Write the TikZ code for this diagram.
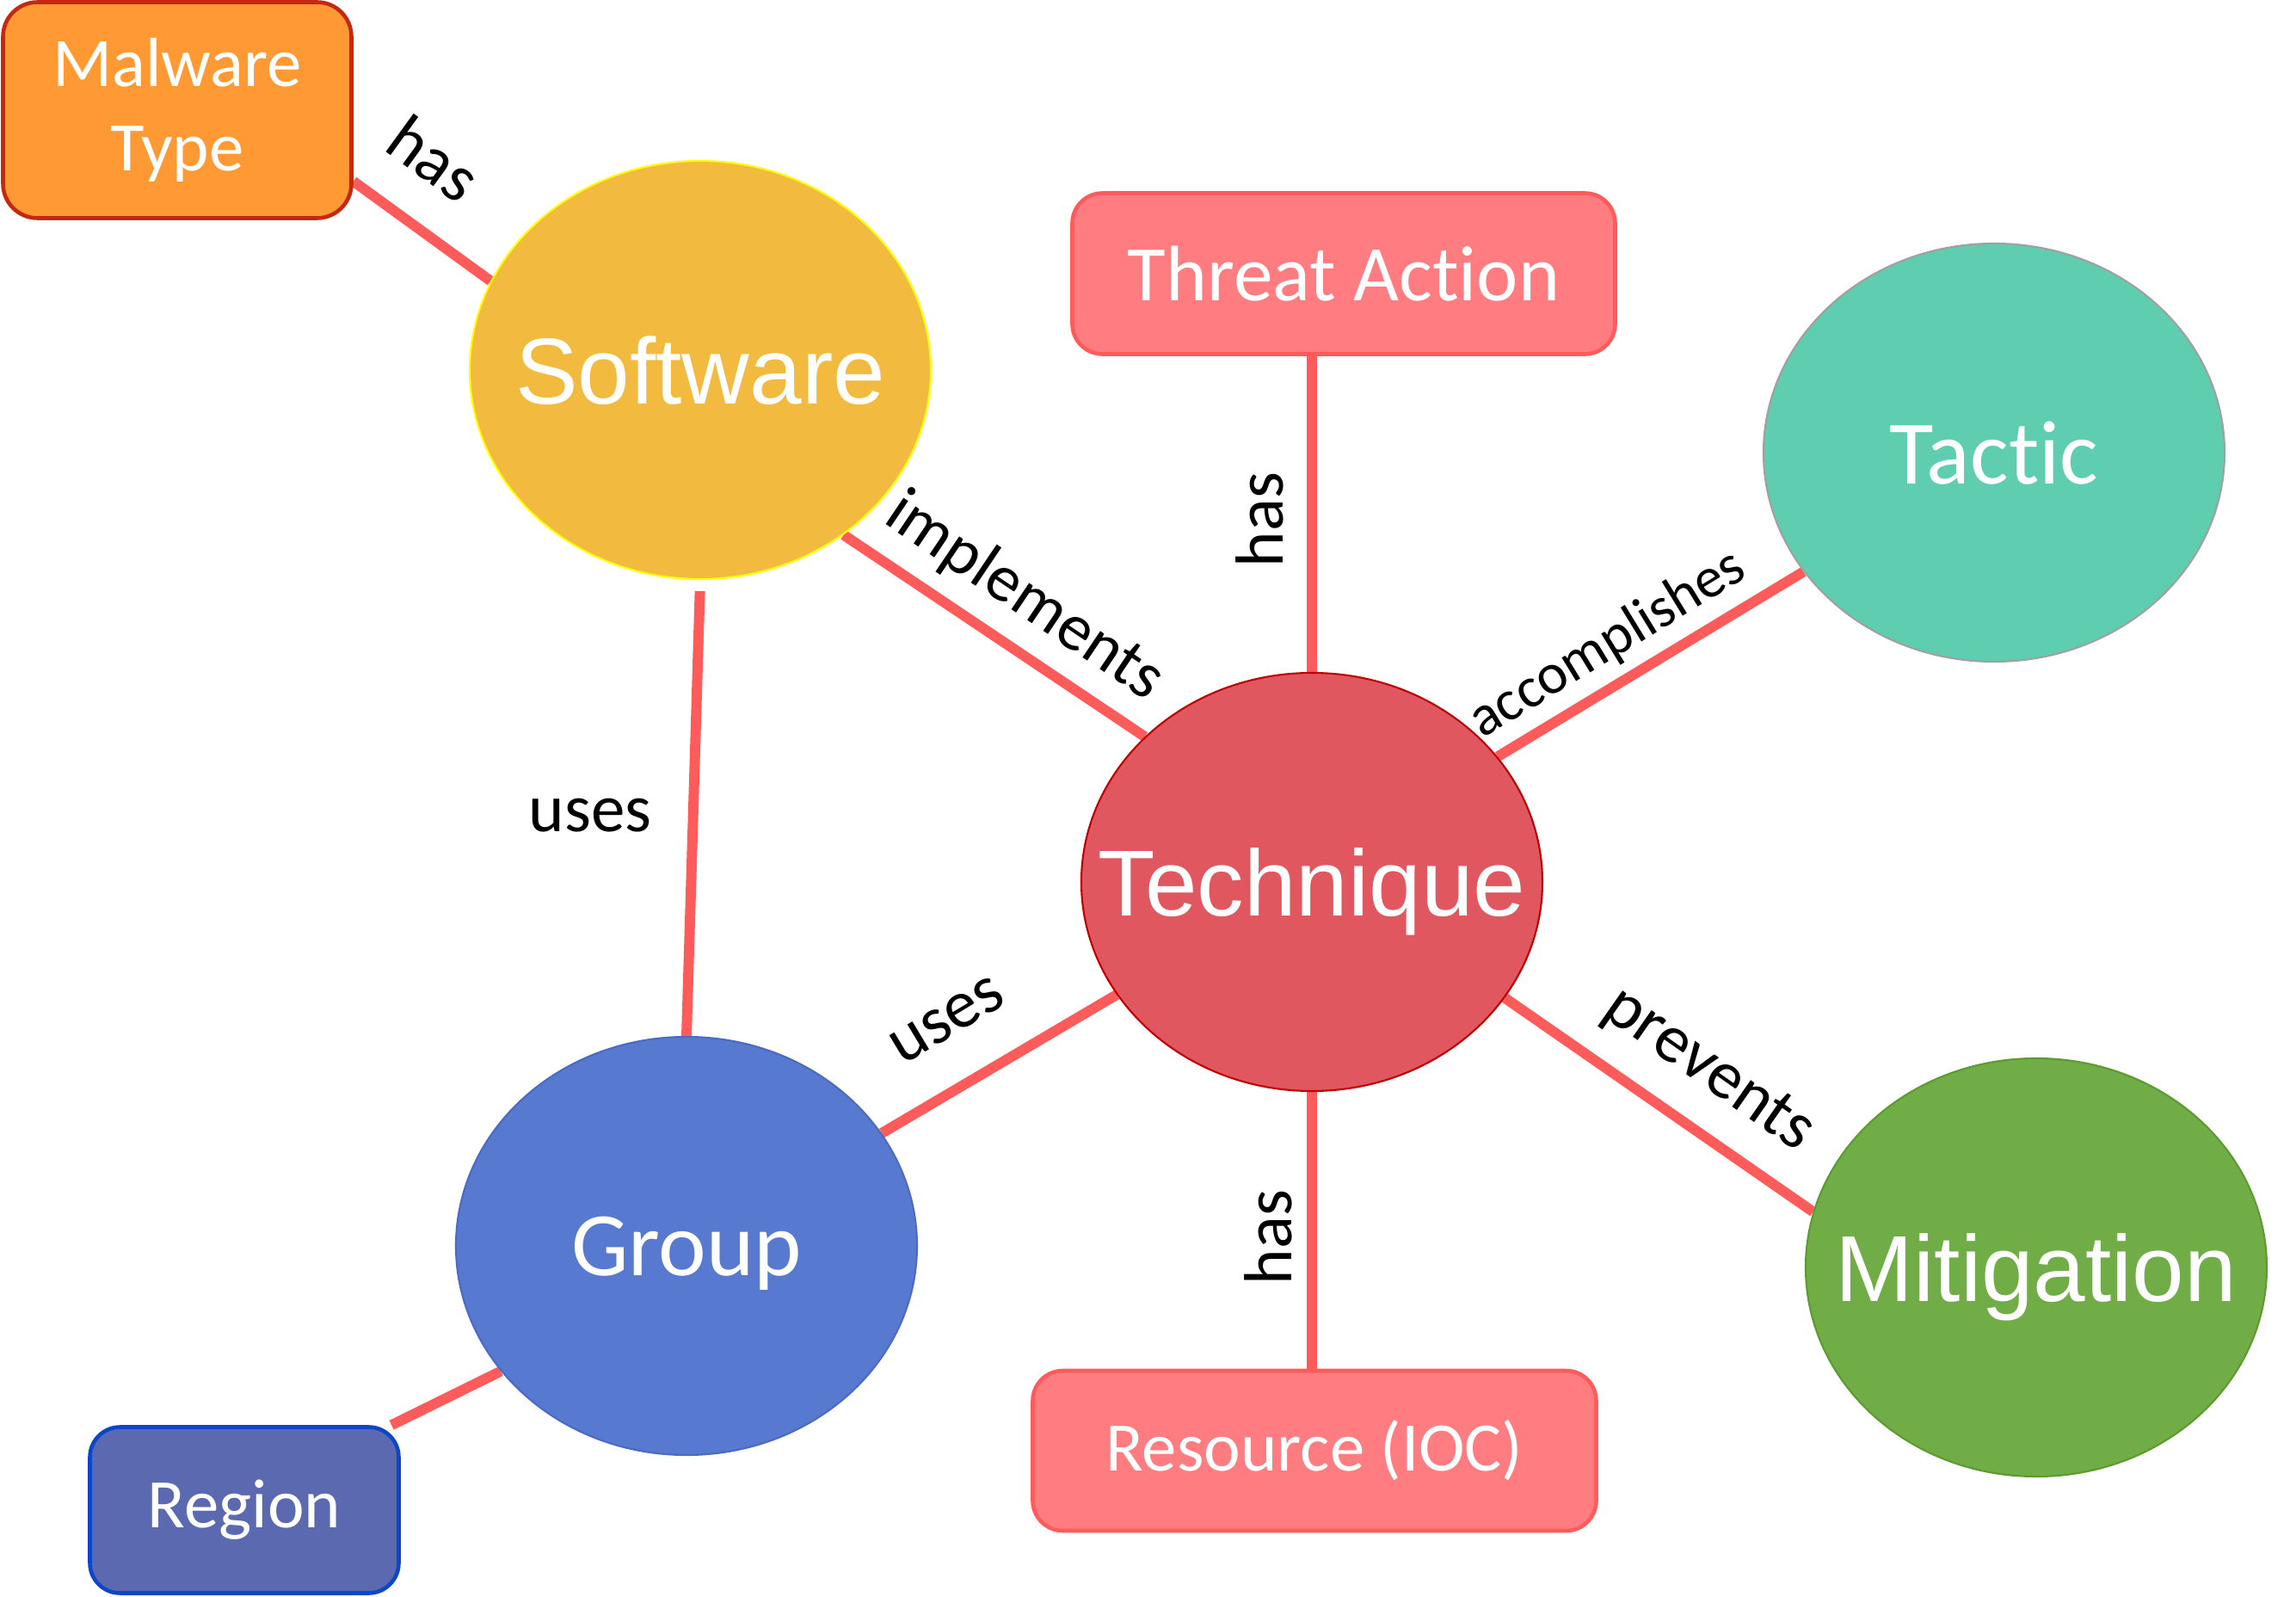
\documentclass[tikz,border=0pt]{standalone}
\usepackage{fontspec}
\setmainfont{Carlito}[Ligatures=NoCommon]
\newfontfamily\arialfont{Liberation Sans}
\usetikzlibrary{shapes,positioning,backgrounds}

\definecolor{linkred}{HTML}{FF5B5B}
\definecolor{malfill}{HTML}{FF9933}
\definecolor{maledge}{HTML}{C4290F}
\definecolor{swfill}{HTML}{F2BB3F}
\definecolor{swedge}{HTML}{FFFF00}
\definecolor{boxfill}{HTML}{FF7C80}
\definecolor{tacfill}{HTML}{5FCDB0}
\definecolor{tacedge}{HTML}{A0A0A0}
\definecolor{techfill}{HTML}{E05760}
\definecolor{techedge}{HTML}{C00000}
\definecolor{grpfill}{HTML}{5779D0}
\definecolor{grpedge}{HTML}{4A6AC4}
\definecolor{mitfill}{HTML}{70AD47}
\definecolor{mitedge}{HTML}{5D9A30}
\definecolor{regfill}{HTML}{5A69B0}
\definecolor{regedge}{HTML}{0B47C8}

% keeps the ellipse from growing round its text
\newcommand{\thin}[1]{\makebox[0pt]{#1}}

\begin{document}
\begin{tikzpicture}[
  concept/.style={ellipse, minimum width=5.36cm, minimum height=4.86cm, inner sep=0pt,
    text=white, text depth=0pt, line width=0.6pt},
  entity/.style={rectangle, rounded corners=0.35cm, inner sep=0pt, text=white,
    line width=1.3pt, align=center, font=\fontsize{23}{28}\selectfont},
  link/.style={linkred, line width=3.4pt},
  rel/.style={inner sep=0pt, font=\fontsize{22.5}{27}\selectfont}
]
\useasboundingbox (0,0) rectangle (26.69,18.55);

% boxes
\node (malware) at (2.06, 17.27) [entity, fill=malfill, draw=maledge, rounded corners=0.4cm, minimum width=4.05cm, minimum height=2.51cm] {Malware\\Type};
\node (threat) at (15.62, 15.37) [entity, fill=boxfill, draw=linkred, minimum width=6.31cm, minimum height=1.87cm, font=\fontsize{26}{31}\selectfont] {Threat Action};
\node (resource) at (15.28, 1.69) [entity, fill=boxfill, draw=linkred, minimum width=6.55cm, minimum height=1.86cm] {Resource (IOC)};
\node (region) at (2.84, 1.00) [entity, fill=regfill, draw=regedge, minimum width=3.59cm, minimum height=1.93cm] {Region};

% ellipses
\node (software) at (8.14, 14.25) [concept, fill=swfill, draw=swedge, font=\arialfont\fontsize{31}{36}\selectfont] {\thin{Software}};
\node (tactic) at (23.18, 13.29) [concept, fill=tacfill, draw=tacedge, font=\fontsize{30}{36}\selectfont] {\thin{Tactic}};
\node (technique) at (15.25, 8.30) [concept, fill=techfill, draw=techedge, font=\arialfont\fontsize{31}{36}\selectfont] {\thin{Technique}};
\node (group) at (7.98, 4.07) [concept, fill=grpfill, draw=grpedge, font=\fontsize{30}{36}\selectfont] {\thin{Group}};
\node (mitigation) at (23.67, 3.82) [concept, fill=mitfill, draw=mitedge, font=\arialfont\fontsize{31}{36}\selectfont] {\thin{Mitigation}};

% relation labels
\node (hasmal) at (5.05, 16.71) [rel, rotate=-36] {has};
\node (implements) at (11.91, 11.61) [rel, rotate=-34, font=\fontsize{22}{26}\selectfont] {implements};
\node (usessw) at (6.86, 9.07) [rel] {uses};
\node (hasthreat) at (14.64, 12.51) [rel, rotate=90] {has};
\node (accomplishes) at (18.69, 11.06) [rel, rotate=31.5, font=\fontsize{19}{23}\selectfont] {accomplishes};
\node (usestech) at (11.01, 6.69) [rel, rotate=31] {uses};
\node (prevents) at (19.86, 6.11) [rel, rotate=-35] {prevents};
\node (hasres) at (14.74, 4.17) [rel, rotate=90] {has};

\begin{scope}[on background layer]
\draw[link] (malware.-22) -- (software.157);
\draw[link, shorten <=0.13cm] (software.south) -- (group.north);
\draw[link] (software.-49) -- (technique.139);
\draw[link] (technique.north) -- (technique.north |- threat.south);
\draw[link] (technique.34) -- (tactic.-148);
\draw[link] (technique.210) -- (group.30);
\draw[link] (technique.-31) -- (mitigation.166);
\draw[link] (technique.south) -- (technique.south |- resource.north);
\draw[link] (group.214) -- (region.30);
\end{scope}
\end{tikzpicture}
\end{document}
